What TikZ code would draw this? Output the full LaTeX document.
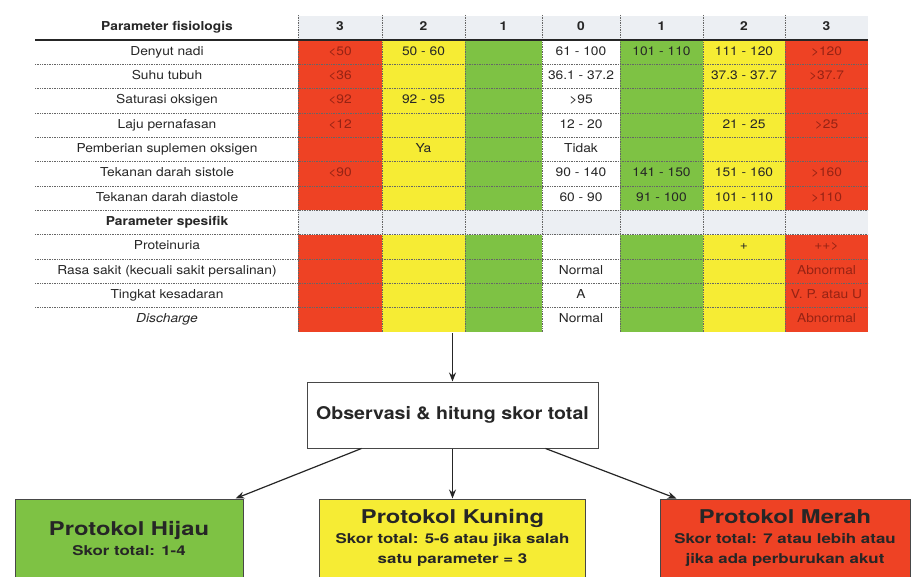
\documentclass[tikz,border=0pt]{standalone}
\usepackage{fontspec}
\setmainfont{TeX Gyre Heros}[FakeStretch=1.12]
\newfontfamily\boxfont{TeX Gyre Heros}[FakeStretch=1.25]
\usetikzlibrary{positioning, arrows.meta}

\definecolor{ewsred}{RGB}{238,66,36}
\definecolor{ewsyellow}{RGB}{246,236,52}
\definecolor{ewsgreen}{RGB}{126,194,68}
\definecolor{ewsgray}{RGB}{236,239,243}
\definecolor{ewstext}{RGB}{38,38,38}
\definecolor{ewsdark}{RGB}{150,35,20}
\newcommand\rowh{24.33}

\begin{document}
\begin{tikzpicture}[
        x=1pt, y=-1pt,
        every node/.style={font=\fontsize{12.3}{14}\selectfont, text=ewstext, inner sep=0pt}, % Table text
        cell/.style={text height=9pt, text depth=3pt},
        hdr/.style={font=\fontsize{12.3}{14}\selectfont\bfseries},
        redtxt/.style={text=ewsdark},
        rowline/.style={densely dotted, gray!80!black, line width=0.7pt},
        arrow/.style={-{Stealth[length=9pt, width=7pt]}, line width=1.2pt, draw=ewstext}, % Arrow style
        protokol/.style={draw=ewstext!85, line width=1pt, minimum height=78pt, align=center,
            font=\boxfont\fontsize{13.5}{20}\selectfont\bfseries}
    ]
    \useasboundingbox (0,0) rectangle (915,577);

    % Score columns
    \foreach \xa/\xb/\col in {298/382/ewsred, 382/465/ewsyellow, 465/542/ewsgreen,
                              620/703/ewsgreen, 703/785/ewsyellow, 785/868/ewsred}
        \fill[\col] (\xa,40) rectangle (\xb,332);
    \fill[ewsgray] (298,16) rectangle (868,40);
    \fill[ewsgray] (298,{40+7*\rowh}) rectangle (868,{40+8*\rowh});

    % Grid lines
    \foreach \i in {1,...,11}
        \draw[rowline] (35,{40+\i*\rowh}) -- (868,{40+\i*\rowh});
    \foreach \xx in {298,382,465,542,620,703,785}
        \draw[rowline] (\xx,15) -- (\xx,332);
    \draw[line width=1.3pt, ewstext] (35,40) -- (868,40);

    % Header
    \node[hdr, cell] (hpar) at (167,28) {Parameter fisiologis};
    \foreach \xc/\s [count=\k] in {340/3, 423.5/2, 503.5/1, 581/0, 661.5/1, 744/2, 826.5/3}
        \node[hdr, cell] (h\k) at (\xc,28) {\s};

    % Rows
    \foreach \lab/\a/\b/\c/\d/\e/\f/\g [count=\r] in {
        Denyut nadi/<50/50 - 60//61 - 100/101 - 110/111 - 120/>120,
        Suhu tubuh/<36///36.1 - 37.2//37.3 - 37.7/>37.7,
        Saturasi oksigen/<92/92 - 95//>95///,
        Laju pernafasan/<12///12 - 20//21 - 25/>25,
        Pemberian suplemen oksigen//Ya//Tidak///,
        Tekanan darah sistole/<90///90 - 140/141 - 150/151 - 160/>160,
        Tekanan darah diastole////60 - 90/91 - 100/101 - 110/>110,
        \bfseries Parameter spesifik///////,
        Proteinuria//////+/++>,
        Rasa sakit (kecuali sakit persalinan)////Normal///Abnormal,
        Tingkat kesadaran////A///V. P. atau U,
        \itshape Discharge////Normal///Abnormal}
    {
        \node[cell] (p\r) at (167,{40+(\r-0.5)*\rowh}) {\lab};
        \node[cell, redtxt] (a\r) at (340,{40+(\r-0.5)*\rowh}) {\a};
        \node[cell] (b\r) at (423.5,{40+(\r-0.5)*\rowh}) {\b};
        \node[cell] (c\r) at (503.5,{40+(\r-0.5)*\rowh}) {\c};
        \node[cell] (d\r) at (581,{40+(\r-0.5)*\rowh}) {\d};
        \node[cell] (e\r) at (661.5,{40+(\r-0.5)*\rowh}) {\e};
        \node[cell] (f\r) at (744,{40+(\r-0.5)*\rowh}) {\f};
        \node[cell, redtxt] (g\r) at (826.5,{40+(\r-0.5)*\rowh}) {\g};
    }

    % Flow
    \coordinate (tblend) at (452.5,333);
    \node[draw=ewstext!85, line width=1pt, minimum width=291pt, minimum height=66pt,
          font=\fontsize{17.5}{20}\selectfont\bfseries] (obs) at (452.5,415) {Observasi \& hitung skor total};

    \node[protokol, fill=ewsgreen, minimum width=228pt] (hijau) at (129,538)
        {{\fontsize{19}{20}\selectfont Protokol Hijau}\\Skor total: 1-4};
    \node[protokol, fill=ewsyellow, minimum width=266pt] (kuning) at (452.5,538)
        {{\fontsize{19}{20}\selectfont Protokol Kuning}\\Skor total: 5-6 atau jika salah\\satu parameter = 3};
    \node[protokol, fill=ewsred, minimum width=250pt] (merah) at (785,538)
        {{\fontsize{19}{20}\selectfont Protokol Merah}\\Skor total: 7 atau lebih atau\\jika ada perburukan akut};

    \draw[arrow] (tblend) -- (obs);
    \draw[arrow] (obs) -- (kuning);
    \draw[arrow] ([xshift=55pt]obs.south west) -- ([xshift=-8pt]hijau.north east);
    \draw[arrow] ([xshift=-53pt]obs.south east) -- ([xshift=17pt]merah.north west);

    \end{tikzpicture}
\end{document}
